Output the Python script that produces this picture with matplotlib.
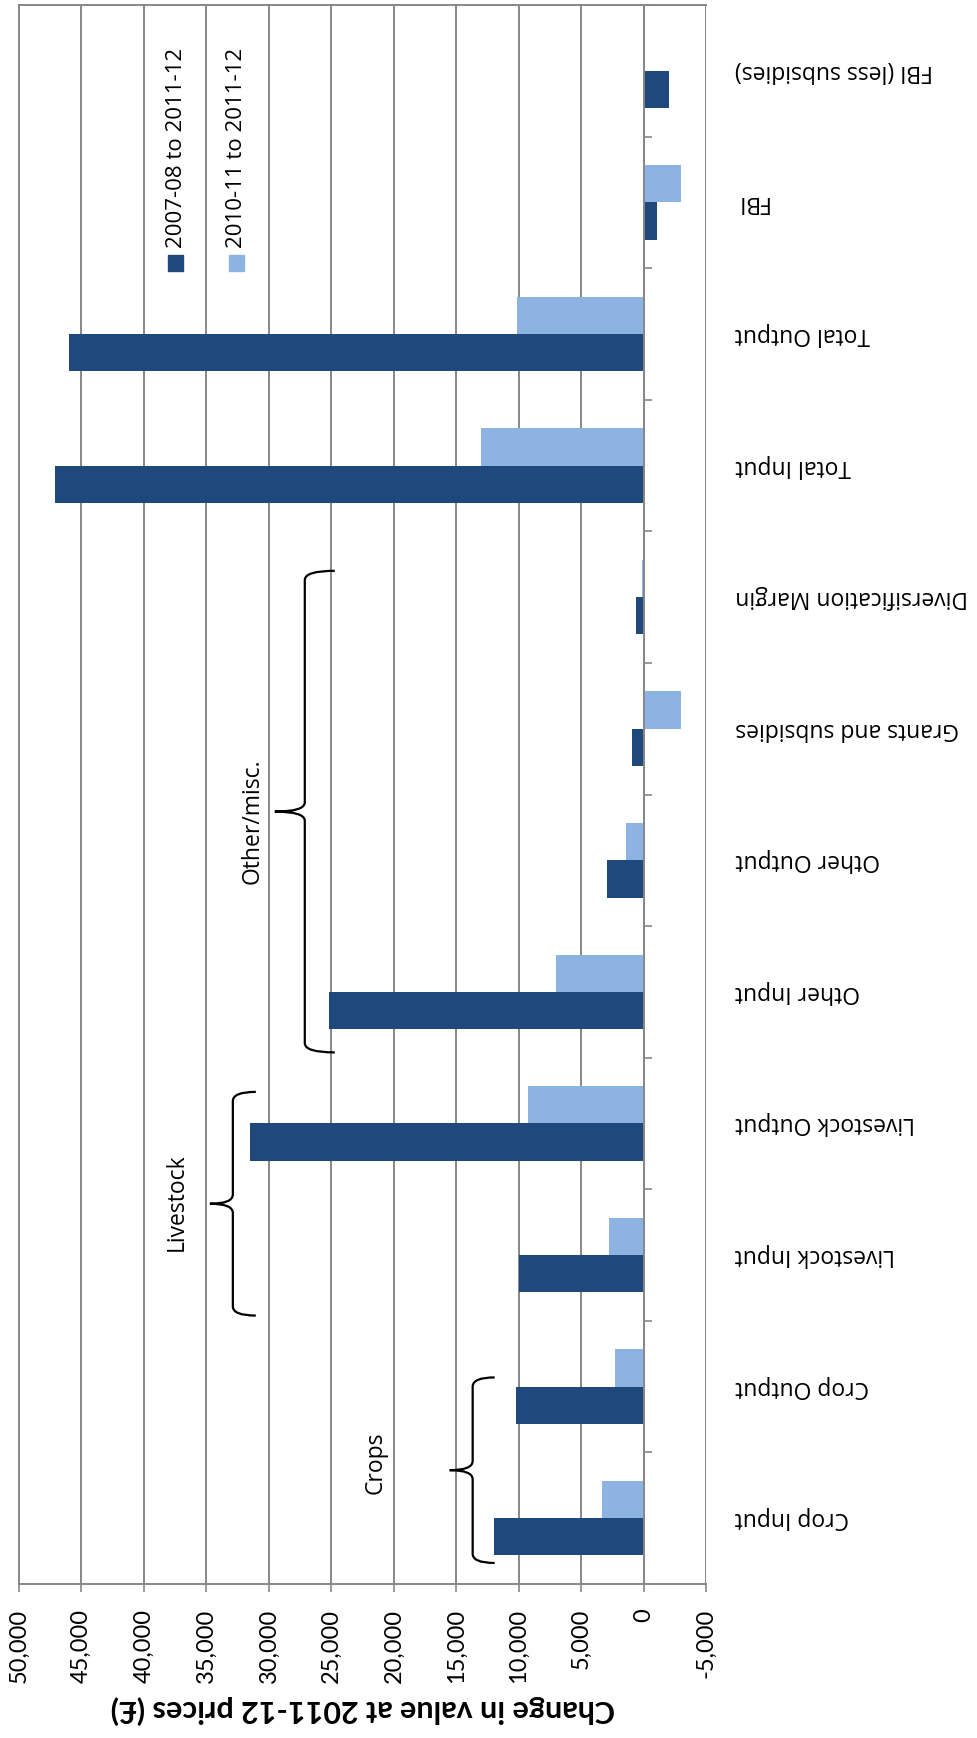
import matplotlib
matplotlib.use("Agg")
import matplotlib.pyplot as plt
import numpy as np
from matplotlib.path import Path
from matplotlib.patches import PathPatch, Rectangle
from matplotlib.ticker import FuncFormatter, MultipleLocator
import matplotlib.transforms as mtransforms

# Change in farm business values at 2011-12 prices (£)
categories = ["Crop Input", "Crop Output", "Livestock Input", "Livestock Output",
              "Other Input", "Other Output", "Grants and subsidies",
              "Diversification Margin", "Total Input", "Total Output", "FBI",
              "FBI (less subsidies)"]
change_0708 = [12000, 10250, 10000, 31500, 25200, 2900, 900, 600,
               47100, 46000, -1100, -2000]
change_1011 = [3300, 2250, 2800, 9250, 7000, 1400, -3000, 100,
               13000, 10100, -3000, -100]
series_labels = ["2007-08 to 2011-12", "2010-11 to 2011-12"]

# Groupings shown with braces: (label, first y, last y)
groups = [("Crops", -0.34, 1.07), ("Livestock", 1.54, 3.24), ("Other/misc.", 3.54, 7.20)]

DARK = "#1F497D"
LIGHT = "#8DB3E2"
GREY = "#878787"

W, H = 978, 1738
fig = plt.figure(figsize=(W / 100, H / 100), dpi=100)
ax = fig.add_axes([19 / W, 1 - 1584 / H, (706 - 19) / W, (1584 - 5) / H])

y = np.arange(len(categories))
h = 0.283
ax.barh(y - h / 2, change_0708, height=h, color=DARK, zorder=2)
ax.barh(y + h / 2, change_1011, height=h, color=LIGHT, zorder=2)

ax.set_xlim(50000, -5000)
ax.set_ylim(-0.5, len(categories) - 0.5)

# value axis along the bottom, labels turned on their side
ax.xaxis.set_major_locator(MultipleLocator(5000))
ax.xaxis.set_major_formatter(FuncFormatter(lambda v, p: f"{int(v):,}"))
ax.tick_params(axis="x", direction="out", length=5.8, width=1.2, color=GREY,
               pad=12, labelsize=17, labelrotation=90)
for lab in ax.get_xticklabels():
    lab.set_fontfamily("Lato")
ax.grid(axis="x", color=GREY, lw=1.4, zorder=0)
ax.set_axisbelow(True)

# category axis sits on zero, ticks between groups of bars
ax.yaxis.tick_right()
ax.spines["right"].set_position(("data", 0))
ax.set_yticks(np.arange(-0.5, len(categories), 1.0))
ax.set_yticklabels([])
ax.tick_params(axis="y", direction="out", length=5.8, width=1.2, color=GREY)
for s in ["left", "right", "top", "bottom"]:
    ax.spines[s].set_color(GREY)
    ax.spines[s].set_linewidth(1.4)
ax.spines["right"].set_zorder(3)

# category names, upside down to the right of the plot
blend = mtransforms.blended_transform_factory(ax.transAxes, ax.transData)
for yi, name in zip(y, categories):
    ax.text(1.0422, yi, name, transform=blend, rotation=180, ha="left",
            va="center", fontsize=16.5, family="Open Sans", clip_on=False)

title = fig.text(362.5 / W, 1 - 1710 / H, "Change in value at 2011-12 prices (£)",
                 rotation=180, ha="center", va="center", fontsize=22,
                 family="Lato", fontweight="bold")


def draw_brace(x, y0, y1, depth, hook, r=0.07):
    ym = (y0 + y1) / 2
    verts = [(x - hook, y0), (x, y0), (x, y0 + r),
             (x, ym - r), (x, ym), (x + depth, ym),
             (x, ym), (x, ym + r),
             (x, y1 - r), (x, y1), (x - hook, y1)]
    codes = [Path.MOVETO, Path.CURVE3, Path.CURVE3,
             Path.LINETO, Path.CURVE3, Path.CURVE3,
             Path.CURVE3, Path.CURVE3,
             Path.LINETO, Path.CURVE3, Path.CURVE3]
    ax.add_patch(PathPatch(Path(verts, codes), fill=False, lw=1.6,
                           color="black", zorder=4, clip_on=False))


brace_x = [13680, 32880, 27120]
brace_depth = [1840, 1840, 2400]
brace_hook = [1760, 1840, 2400]
label_pos = [(21440, 0.42), (37360, 2.40), (31280, 5.30)]
for (name, y0, y1), bx, d, hk, (tx, ty) in zip(groups, brace_x, brace_depth,
                                               brace_hook, label_pos):
    draw_brace(bx, y0, y1, d, hk)
    ax.text(tx, ty, name, rotation=90, ha="center", va="center",
            fontsize=16.5, family="Open Sans", zorder=4)

# legend keys drawn by hand so they can be turned with the chart
for cx, col, lab in zip([176, 237], [DARK, LIGHT], series_labels):
    fig.patches.append(Rectangle(((cx - 7.5) / W, 1 - (263 + 7.5) / H),
                                 15 / W, 15 / H, color=col,
                                 transform=fig.transFigure, figure=fig))
    fig.text(cx / W, 1 - 248 / H, lab, rotation=90, ha="center", va="bottom",
             fontsize=16, family="Open Sans")

fig.savefig("out.png", dpi=100, facecolor="white")
